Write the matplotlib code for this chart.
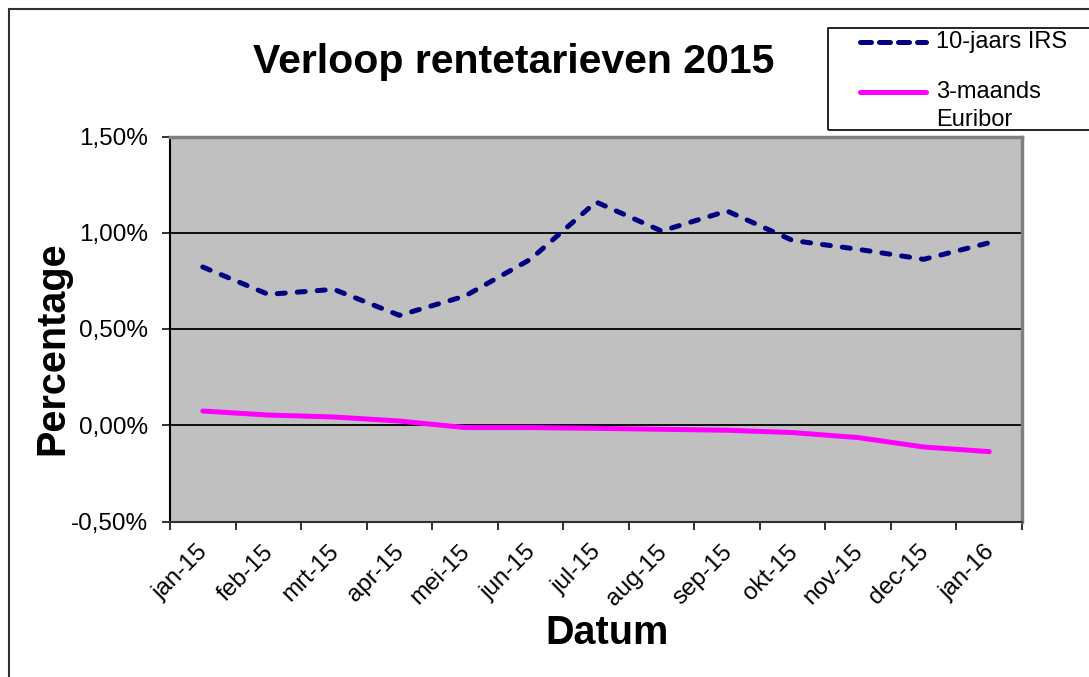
import matplotlib
matplotlib.use('Agg')
import matplotlib.pyplot as plt
import matplotlib.transforms as mtransforms
from matplotlib.lines import Line2D
from matplotlib.patches import Rectangle
from matplotlib.ticker import FuncFormatter

plt.rcParams['font.family'] = ['Liberation Sans', 'DejaVu Sans']

# data (percent)
months = ['jan-15', 'feb-15', 'mrt-15', 'apr-15', 'mei-15', 'jun-15', 'jul-15',
          'aug-15', 'sep-15', 'okt-15', 'nov-15', 'dec-15', 'jan-16']
irs_10y = [0.822, 0.68, 0.706, 0.571, 0.671, 0.862, 1.16,
           1.009, 1.113, 0.96, 0.914, 0.862, 0.948]
euribor_3m = [0.074, 0.053, 0.043, 0.022, -0.012, -0.012, -0.016,
              -0.021, -0.026, -0.038, -0.064, -0.113, -0.137]
y_ticks = [-0.5, 0.0, 0.5, 1.0, 1.5]

W, H = 1089, 677
fig = plt.figure(figsize=(W / 100, H / 100), dpi=100)
fig.patch.set_facecolor('white')

def fx(px):
    return px / W

def fy(py):
    return 1 - py / H

ax = fig.add_axes([fx(170), fy(521.5), fx(1022) - fx(170), fy(136.5) - fy(521.5)])
ax.set_facecolor('#C0C0C0')

x = list(range(len(months)))
ax.plot(x, irs_10y, color='#000080', lw=3.6, linestyle=(0, (1.6, 2.4)),
        dash_capstyle='round', solid_capstyle='round', zorder=3)
ax.plot(x, euribor_3m, color='#FF00FF', lw=3.6, solid_capstyle='round', zorder=3)

ax.set_xlim(-0.5, len(months) - 0.5)
ax.set_ylim(-0.5, 1.5)

# ticks at category boundaries, labels at centres
ax.set_xticks([i - 0.5 for i in range(len(months) + 1)])
ax.set_xticklabels([])
ax.set_xticks(x, minor=True)
ax.set_xticklabels(months, minor=True, rotation=45, ha='right', va='top',
                   rotation_mode='anchor', fontsize=17.5)
ax.tick_params(axis='x', which='major', direction='out', length=6, width=1.3, color='#202020')
ax.tick_params(axis='x', which='minor', length=0, pad=14)
shift = mtransforms.ScaledTranslation(-6 / 100, 0, fig.dpi_scale_trans)
for lab in ax.get_xticklabels(minor=True):
    lab.set_transform(lab.get_transform() + shift)

ax.set_yticks(y_ticks)
ax.yaxis.set_major_formatter(FuncFormatter(lambda v, p: ('%.2f%%' % v).replace('.', ',')))
ax.tick_params(axis='y', direction='out', length=6, width=1.3, color='#202020',
               labelsize=17.5, pad=10)

ax.grid(axis='y', color='black', lw=1.3, zorder=1)
ax.set_axisbelow(True)

ax.spines['left'].set_color('black')
ax.spines['left'].set_linewidth(1.5)
ax.spines['bottom'].set_color('#303030')
ax.spines['bottom'].set_linewidth(1.5)
ax.spines['top'].set_color('#808080')
ax.spines['top'].set_linewidth(2.5)
ax.spines['right'].set_color('#808080')
ax.spines['right'].set_linewidth(2.5)

# titles
fig.text(fx(514), fy(62), 'Verloop rentetarieven 2015', fontsize=29.5, fontweight='bold',
         ha='center', va='center')
fig.text(fx(52), fy(348), 'Percentage', fontsize=28.5, fontweight='bold',
         ha='center', va='center', rotation=90)
fig.text(fx(607), fy(633), 'Datum', fontsize=28.5, fontweight='bold',
         ha='center', va='center')

# outer chart border
fig.add_artist(Rectangle((fx(9), fy(700)), fx(1200), fy(9) - fy(700), fill=False,
                         edgecolor='#303030', lw=1.5, transform=fig.transFigure))

# legend box
fig.add_artist(Rectangle((fx(828), fy(130)), fx(400), fy(28) - fy(130), fill=False,
                         edgecolor='black', lw=1.2, transform=fig.transFigure))
fig.add_artist(Line2D([fx(860), fx(926)], [fy(42), fy(42)], color='#000080', lw=3.6,
                      linestyle=(0, (2.2, 1.6)), dash_capstyle='round',
                      transform=fig.transFigure))
fig.add_artist(Line2D([fx(860), fx(926)], [fy(92), fy(92)], color='#FF00FF', lw=3.6,
                      solid_capstyle='round', transform=fig.transFigure))
fig.text(fx(936), fy(42), '10-jaars IRS', fontsize=17, ha='left', va='center')
fig.text(fx(936), fy(92), '3-maands', fontsize=17, ha='left', va='center')
fig.text(fx(936), fy(120), 'Euribor', fontsize=17, ha='left', va='center')

fig.savefig('out.png', dpi=100)
